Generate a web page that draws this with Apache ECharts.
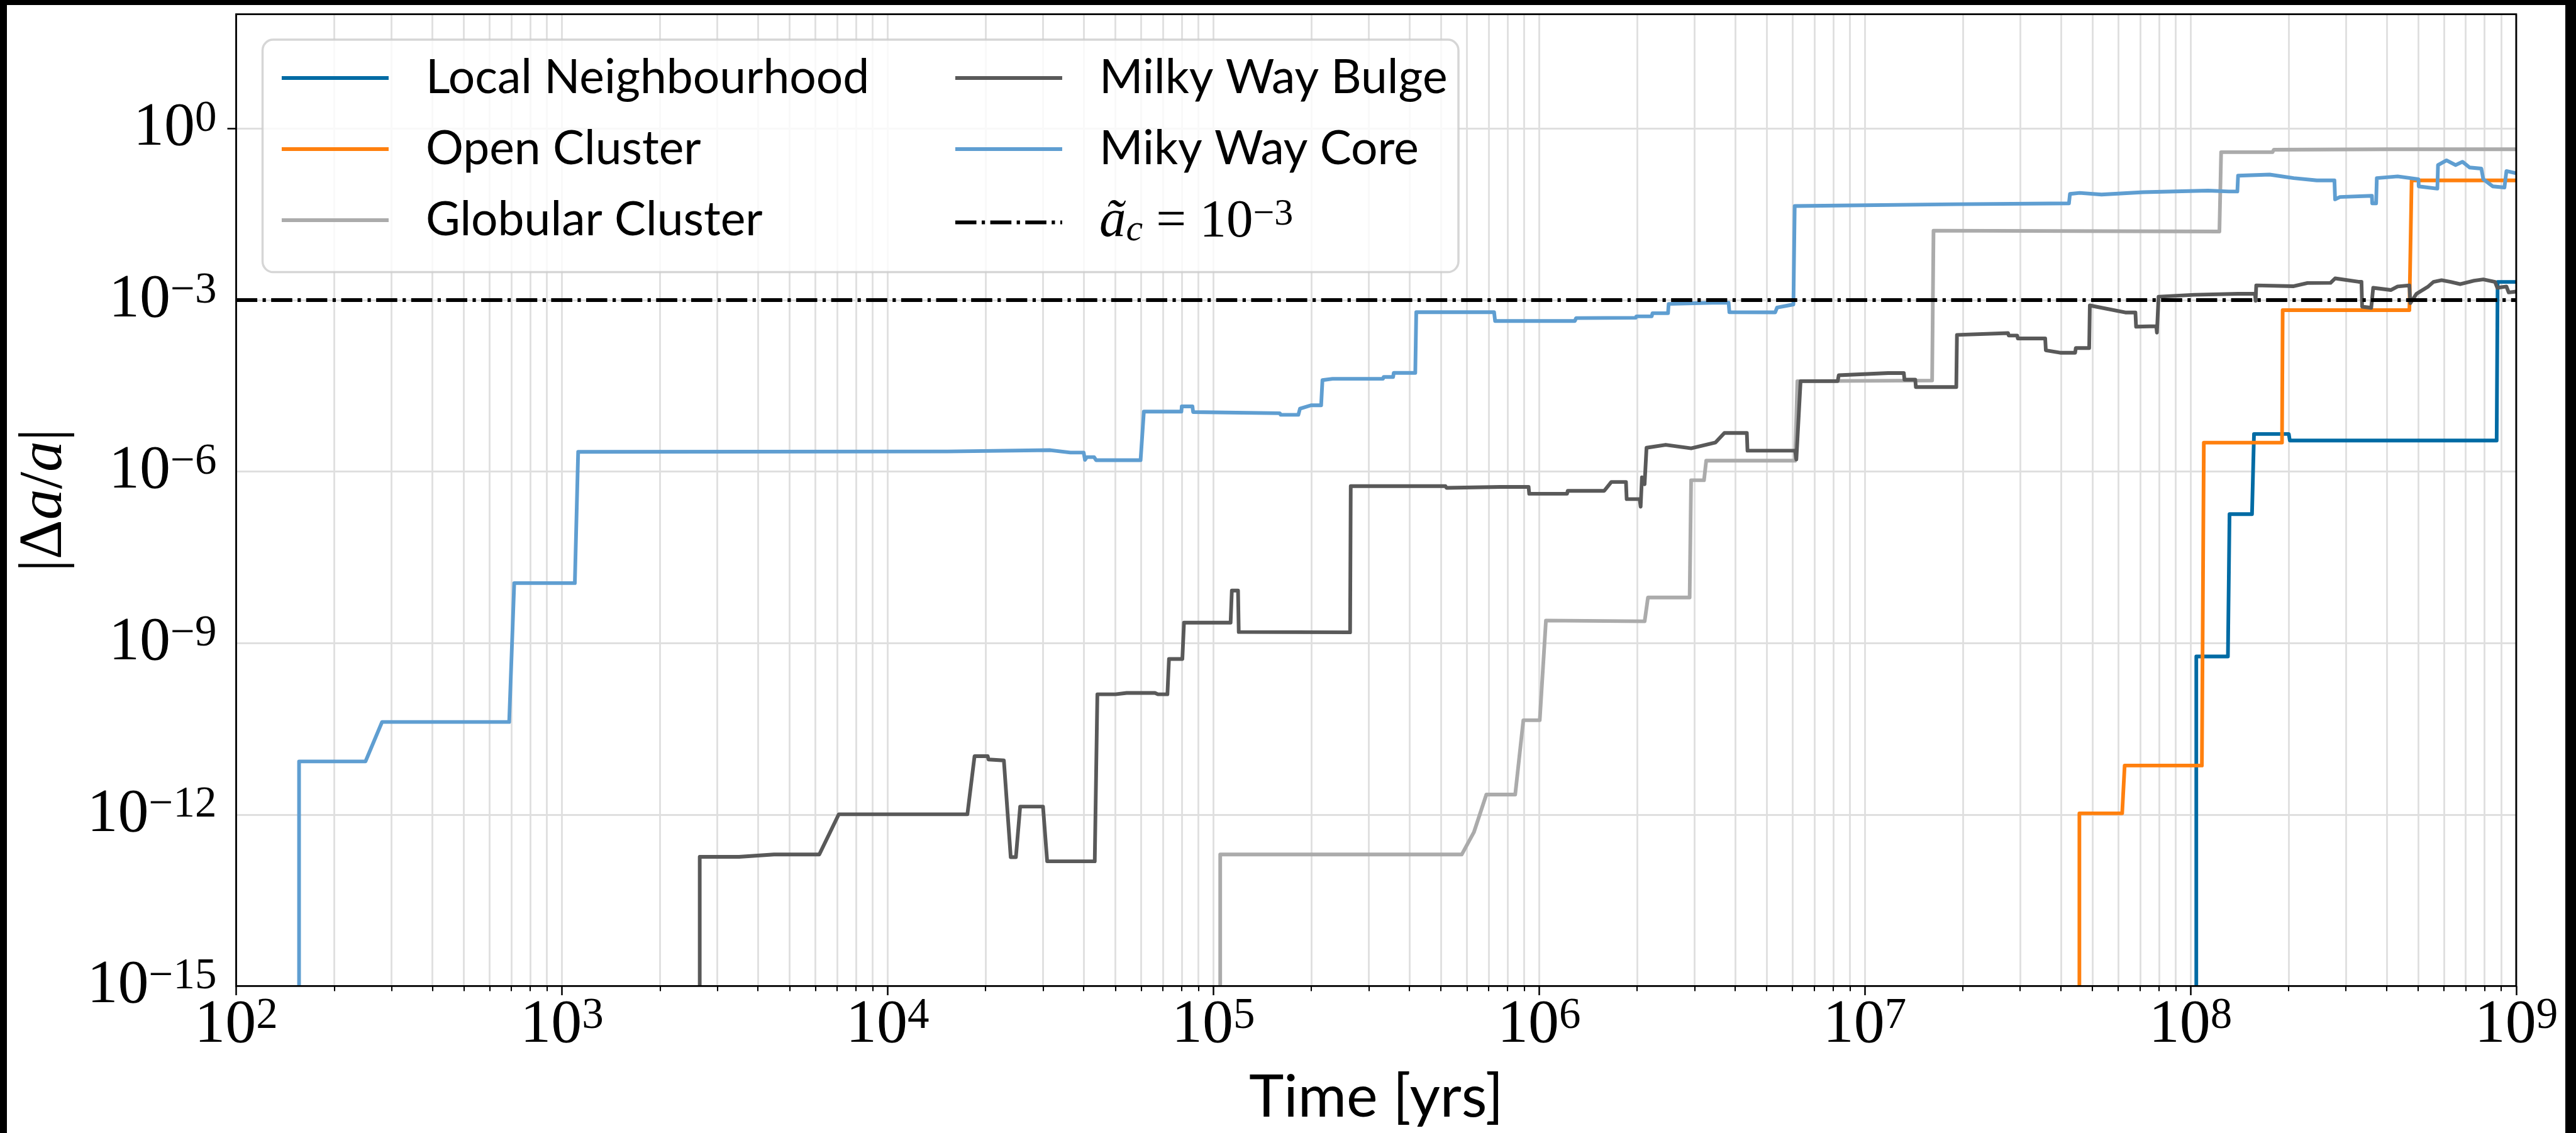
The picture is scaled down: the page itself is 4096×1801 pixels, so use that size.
<!DOCTYPE html>
<html>
<head>
<meta charset="utf-8">
<title>Fractional semi-major axis change by environment</title>
<script src="https://cdn.jsdelivr.net/npm/echarts@6.0.0/dist/echarts.min.js"></script>
<style>
  html, body { margin: 0; padding: 0; width: 4096px; height: 1801px; background: #000; overflow: hidden; }
  #paper { position: absolute; left: 11px; top: 8px; width: 4068px; height: 1793px; background: #fff; }
  #chart { position: absolute; left: 0; top: 0; width: 4096px; height: 1801px; }
</style>
</head>
<body>
<div id="paper"></div>
<div id="chart"></div>
<script>
// ---------------------------------------------------------------------------
// Data: time [yr] and |Δa/a| for each stellar environment
// ---------------------------------------------------------------------------
const localTime  = [1.042e8, 1.042e8, 1.303e8, 1.318e8, 1.545e8, 1.567e8, 2.004e8, 2.018e8, 8.71e8, 8.77e8, 1e9];
const localValue = [1e-15, 5.83e-10, 5.83e-10, 1.80e-7, 1.80e-7, 4.55e-6, 4.55e-6, 3.5e-6, 3.5e-6, 2.08e-3, 2.08e-3];

const openTime  = [4.56e7, 4.56e7, 6.17e7, 6.28e7, 1.084e8, 1.099e8, 1.91e8, 1.919e8, 4.70e8, 4.775e8, 1e9];
const openValue = [1e-15, 1.05e-12, 1.05e-12, 7.2e-12, 7.2e-12, 3.21e-6, 3.21e-6, 6.67e-4, 6.67e-4, 0.124, 0.124];

const globularTime  = [1.05e5, 1.05e5, 5.79e5, 6.31e5, 6.89e5, 8.45e5, 8.95e5, 1.005e6, 1.05e6, 2.11e6, 2.16e6,
                       2.90e6, 2.93e6, 3.21e6, 3.26e6, 6.11e6, 6.21e6, 1.61e7, 1.626e7, 1.227e8, 1.242e8,
                       1.786e8, 1.803e8, 3.99e8, 1e9];
const globularValue = [1e-15, 2.0e-13, 2.0e-13, 4.9e-13, 2.24e-12, 2.24e-12, 4.47e-11, 4.47e-11, 2.48e-9, 2.40e-9, 6.27e-9,
                       6.27e-9, 7.06e-7, 7.06e-7, 1.55e-6, 1.55e-6, 3.82e-5, 3.92e-5, 1.64e-2, 1.585e-2, 0.387,
                       0.387, 0.427, 0.436, 0.436];

const bulgeTime = [2.65e3, 2.65e3, 3.5e3, 4.48e3, 6.17e3, 7.08e3, 1.758e4, 1.849e4, 2.03e4, 2.04e4,
                   2.275e4, 2.388e4, 2.477e4, 2.553e4, 3.0e4, 3.09e4, 4.325e4, 4.406e4, 5.01e4, 5.42e4,
                   6.62e4, 6.76e4, 7.23e4, 7.31e4, 8.035e4, 8.128e4, 1.13e5, 1.14e5, 1.191e5, 1.197e5,
                   2.63e5, 2.642e5, 5.16e5, 5.2e5, 7.6e5, 9.29e5, 9.33e5, 1.219e6, 1.225e6, 1.585e6,
                   1.667e6, 1.849e6, 1.858e6, 2.037e6, 2.051e6, 2.07e6, 2.109e6, 2.138e6, 2.449e6, 2.931e6,
                   3.483e6, 3.707e6, 4.345e6, 4.365e6, 6.109e6, 6.166e6, 6.353e6, 8.26e6, 8.32e6, 1.18e7,
                   1.318e7, 1.324e7, 1.429e7, 1.435e7, 1.91e7, 1.919e7, 2.754e7, 2.767e7, 2.938e7, 2.951e7,
                   3.581e7, 3.597e7, 3.98e7, 4.426e7, 4.446e7, 4.887e7, 4.909e7, 6.31e7, 6.776e7, 6.808e7,
                   7.852e7, 7.889e7, 7.98e7, 1.026e8, 1.40e8, 1.578e8, 1.585e8, 1.592e8, 2.075e8, 2.286e8,
                   2.692e8, 2.78e8, 3.281e8, 3.35e8, 3.365e8, 3.589e8, 3.639e8, 4.121e8, 4.325e8, 4.699e8,
                   4.732e8, 4.943e8, 5.37e8, 5.572e8, 5.902e8, 6.295e8, 6.73e8, 7.43e8, 7.925e8, 8.61e8,
                   8.75e8, 9.333e8, 9.484e8, 1e9];
const bulgeValue = [1e-15, 1.82e-13, 1.82e-13, 2.0e-13, 2.0e-13, 1.01e-12, 1.01e-12, 1.05e-11, 1.05e-11, 9.2e-12,
                    8.85e-12, 1.8e-13, 1.8e-13, 1.38e-12, 1.38e-12, 1.52e-13, 1.52e-13, 1.27e-10, 1.27e-10, 1.34e-10,
                    1.34e-10, 1.27e-10, 1.27e-10, 5.27e-10, 5.27e-10, 2.28e-9, 2.28e-9, 8.28e-9, 8.28e-9, 1.56e-9,
                    1.54e-9, 5.57e-7, 5.57e-7, 5.19e-7, 5.4e-7, 5.4e-7, 4.09e-7, 4.09e-7, 4.6e-7, 4.6e-7,
                    6.58e-7, 6.58e-7, 3.3e-7, 3.3e-7, 2.43e-7, 7.96e-7, 6.0e-7, 2.61e-6, 2.94e-6, 2.55e-6,
                    3.23e-6, 4.73e-6, 4.73e-6, 2.32e-6, 2.32e-6, 1.63e-6, 3.82e-5, 3.82e-5, 4.84e-5, 5.3e-5,
                    5.3e-5, 4.06e-5, 4.06e-5, 3.01e-5, 3.01e-5, 2.46e-4, 2.65e-4, 2.4e-4, 2.4e-4, 2.13e-4,
                    2.13e-4, 1.32e-4, 1.2e-4, 1.2e-4, 1.45e-4, 1.45e-4, 8.07e-4, 6.07e-4, 6.07e-4, 3.43e-4,
                    3.5e-4, 2.7e-4, 1.146e-3, 1.236e-3, 1.29e-3, 1.29e-3, 9.75e-4, 1.81e-3, 1.75e-3, 1.99e-3,
                    2.0e-3, 2.4e-3, 2.09e-3, 2.09e-3, 7.67e-4, 7.33e-4, 1.64e-3, 1.5e-3, 1.73e-3, 1.81e-3,
                    8.85e-4, 1.29e-3, 1.73e-3, 2.08e-3, 2.23e-3, 2.08e-3, 1.9e-3, 2.19e-3, 2.3e-3, 2.08e-3,
                    1.64e-3, 1.73e-3, 1.36e-3, 1.41e-3];

const coreTime = [156, 156, 249.5, 280.5, 689, 714, 1096, 1122, 1.53e4, 3.16e4,
                  3.64e4, 4.0e4, 4.036e4, 4.093e4, 4.305e4, 4.365e4, 5.98e4, 6.12e4, 7.98e4, 8.0e4,
                  8.63e4, 8.67e4, 1.6e5, 1.61e5, 1.824e5, 1.845e5, 1.995e5, 2.143e5, 2.163e5, 2.323e5,
                  3.319e5, 3.334e5, 3.565e5, 3.58e5, 4.169e5, 4.198e5, 7.278e5, 7.33e5, 1.288e6, 1.30e6,
                  1.98e6, 1.99e6, 2.218e6, 2.23e6, 2.489e6, 2.50e6, 3.404e6, 3.82e6, 3.84e6, 5.31e6,
                  5.38e6, 6.039e6, 6.095e6, 1.901e7, 4.236e7, 4.266e7, 4.57e7, 5.33e7, 7.16e7, 1.132e8,
                  1.312e8, 1.393e8, 1.40e8, 1.75e8, 2.075e8, 2.443e8, 2.767e8, 2.78e8, 2.877e8, 3.606e8,
                  3.614e8, 3.715e8, 3.733e8, 4.325e8, 5.012e8, 5.02e8, 5.728e8, 5.754e8, 6.11e8, 6.516e8,
                  6.84e8, 7.194e8, 7.816e8, 7.925e8, 8.47e8, 9.204e8, 9.333e8, 1e9];
const coreValue = [1e-15, 8.5e-12, 8.5e-12, 4.17e-11, 4.17e-11, 1.12e-8, 1.12e-8, 2.21e-6, 2.25e-6, 2.37e-6,
                   2.15e-6, 2.15e-6, 1.6e-6, 1.79e-6, 1.79e-6, 1.585e-6, 1.585e-6, 1.12e-5, 1.12e-5, 1.38e-5,
                   1.38e-5, 1.10e-5, 1.05e-5, 9.84e-6, 9.84e-6, 1.26e-5, 1.445e-5, 1.445e-5, 3.98e-5, 4.2e-5,
                   4.2e-5, 4.51e-5, 4.51e-5, 5.32e-5, 5.32e-5, 6.15e-4, 6.15e-4, 4.31e-4, 4.31e-4, 4.85e-4,
                   4.9e-4, 5.2e-4, 5.2e-4, 5.9e-4, 5.9e-4, 8.57e-4, 9.0e-4, 9.0e-4, 6.15e-4, 6.1e-4,
                   7.41e-4, 8.38e-4, 4.42e-2, 4.75e-2, 4.93e-2, 7.21e-2, 7.5e-2, 7.01e-2, 7.71e-2, 8.24e-2,
                   7.94e-2, 7.94e-2, 0.15, 0.157, 0.136, 0.124, 0.124, 5.79e-2, 6.37e-2, 6.67e-2,
                   4.93e-2, 4.93e-2, 0.136, 0.146, 0.13, 9.77e-2, 8.91e-2, 0.23, 0.278, 0.23,
                   0.263, 0.209, 0.2, 0.13, 9.77e-2, 9.33e-2, 0.181, 0.166];

// critical change threshold ã_c = 10^-3
const thresholdTime  = [1e2, 1e9];
const thresholdValue = [1e-3, 1e-3];

const seriesNames  = ['Local Neighbourhood', 'Open Cluster', 'Globular Cluster', 'Milky Way Bulge', 'Miky Way Core'];
const seriesColors = ['#006BA4', '#FF800E', '#ABABAB', '#595959', '#5F9ED1'];
const thresholdName = 'a_c threshold';

// axis ranges and tick exponents
const timeRange  = [1e2, 1e9];
const ratioRange = [1e-15, 1e2];
const yTickExponents = [-15, -12, -9, -6, -3, 0];
const minorMultipliers = [2, 3, 4, 5, 6, 7, 8, 9];

// ---------------------------------------------------------------------------
// Layout and styling
// ---------------------------------------------------------------------------
const SERIF = '"Liberation Serif", "DejaVu Serif", serif';
const SANS  = 'Lato, "Open Sans", sans-serif';
const GL = 375.5, GT = 22.7, GR = 4000.9, GB = 1567.4;
const GW = GR - GL, GH = GB - GT;
const LINE_W = 5.9, AXIS_W = 2.8, GRID_W = 2.8, GRID_COLOR = '#dfdfdf';
const MAJOR_TICK = 14.5, MINOR_TICK = 8.1, Y_TICK = 14;

const xMinorValues = [];
for (let e = Math.log10(timeRange[0]); e < Math.log10(timeRange[1]); e++) {
  minorMultipliers.forEach(m => xMinorValues.push(m * Math.pow(10, e)));
}

function pairs(t, v) { return t.map((x, i) => [x, v[i]]); }

function powerLabel(value) {
  const e = Math.round(Math.log10(value));
  const exp = e < 0 ? '\u2212' + (-e) : String(e);
  return '{b|10}{s|' + exp + '}';
}
const tickRich = {
  b: { fontFamily: SERIF, fontSize: 98, lineHeight: 98, color: '#000' },
  s: { fontFamily: SERIF, fontSize: 69, lineHeight: 49, verticalAlign: 'top', color: '#000' }
};

const legendRich = {
  a: { fontFamily: SERIF, fontStyle: 'italic', fontSize: 85, lineHeight: 85, color: '#000' },
  c: { fontFamily: SERIF, fontStyle: 'italic', fontSize: 60, lineHeight: 50, verticalAlign: 'bottom', color: '#000' },
  e: { fontFamily: SERIF, fontSize: 85, lineHeight: 85, color: '#000' },
  s: { fontFamily: SERIF, fontSize: 60, lineHeight: 47, verticalAlign: 'top', color: '#000' }
};
function legendText(name) {
  if (name === thresholdName) return '{a|\u00e3}{c|c}{e| = 10}{s|\u22123}';
  return name;
}

function envSeries(idx, t, v) {
  return {
    type: 'line', name: seriesNames[idx], xAxisIndex: 0, yAxisIndex: 0,
    data: pairs(t, v), symbol: 'none', showSymbol: false, clip: true, silent: true, z: 3,
    lineStyle: { color: seriesColors[idx], width: LINE_W, cap: 'butt', join: 'round' },
    itemStyle: { color: seriesColors[idx] },
    emphasis: { disabled: true }
  };
}

function tickLines(xIdx, yIdx, items, color, width, z) {
  return {
    type: 'line', xAxisIndex: xIdx, yAxisIndex: yIdx, data: [], silent: true, z: z,
    markLine: {
      silent: true, z: z, symbol: ['none', 'none'], animation: false,
      label: { show: false }, emphasis: { disabled: true },
      lineStyle: { color: color, width: width, type: 'solid', opacity: 1 },
      data: items
    }
  };
}

const legendBase = {
  orient: 'vertical', top: 85, padding: 0, itemGap: 35,
  itemWidth: 170, itemHeight: 78, selectedMode: false, z: 30,
  itemStyle: { opacity: 0, borderWidth: 0 },
  lineStyle: { width: LINE_W },
  textStyle: { fontFamily: SANS, fontSize: 75, lineHeight: 78, color: '#000', padding: [0, 0, 0, 54], rich: legendRich },
  formatter: legendText
};

const option = {
  backgroundColor: 'transparent',
  animation: false,
  grid: [
    { left: GL, top: GT, width: GW, height: GH, show: false },
    { left: GL, top: GB, width: GW, height: MINOR_TICK, show: false },
    { left: GL - Y_TICK, top: GT, width: Y_TICK, height: GH, show: false }
  ],
  xAxis: [
    {
      gridIndex: 0, type: 'log', logBase: 10, min: timeRange[0], max: timeRange[1], interval: 1,
      name: 'Time [yrs]', nameLocation: 'middle', nameGap: 130,
      nameTextStyle: { fontFamily: SANS, fontSize: 94, lineHeight: 94, color: '#000' },
      axisLine: { show: false },
      axisTick: { show: true, inside: false, length: MAJOR_TICK, lineStyle: { color: '#000', width: 2.5 } },
      axisLabel: { margin: 14, formatter: powerLabel, rich: tickRich, color: '#000' },
      splitLine: { show: true, lineStyle: { color: GRID_COLOR, width: GRID_W } },
      minorTick: { show: false }, minorSplitLine: { show: false }
    },
    { gridIndex: 1, type: 'log', logBase: 10, min: timeRange[0], max: timeRange[1], show: false },
    { gridIndex: 2, type: 'value', min: 0, max: 1, show: false }
  ],
  yAxis: [
    {
      gridIndex: 0, type: 'log', logBase: 10, min: ratioRange[0], max: ratioRange[1], interval: 3,
      name: '{r||\u0394}{i|a}{r|/}{i|a}{r||}', nameLocation: 'middle', nameGap: 255,
      nameTextStyle: {
        fontFamily: SERIF, fontSize: 98, lineHeight: 98, color: '#000',
        rich: {
          r: { fontFamily: SERIF, fontSize: 98, lineHeight: 98, color: '#000' },
          i: { fontFamily: SERIF, fontStyle: 'italic', fontSize: 98, lineHeight: 98, color: '#000' }
        }
      },
      axisLine: { show: false },
      axisTick: { show: false },
      axisLabel: { margin: 31, formatter: powerLabel, rich: tickRich, color: '#000', showMaxLabel: false },
      splitLine: { show: true, lineStyle: { color: GRID_COLOR, width: GRID_W } },
      minorTick: { show: false }, minorSplitLine: { show: false }
    },
    { gridIndex: 1, type: 'value', min: 0, max: 1, show: false },
    { gridIndex: 2, type: 'log', logBase: 10, min: ratioRange[0], max: ratioRange[1], show: false }
  ],
  legend: [
    Object.assign({}, legendBase, { left: 445, data: seriesNames.slice(0, 3) }),
    Object.assign({}, legendBase, { left: 1516, data: [seriesNames[3], seriesNames[4], thresholdName] })
  ],
  graphic: [
    { type: 'rect', z: 10, silent: true, shape: { x: GL, y: GT, width: GW, height: GH },
      style: { fill: 'none', stroke: '#000', lineWidth: AXIS_W } },
    { type: 'rect', z: 20, silent: true, shape: { x: 417.5, y: 63, width: 1901.5, height: 369.6, r: 17 },
      style: { fill: 'rgba(255,255,255,0.8)', stroke: 'rgba(204,204,204,0.8)', lineWidth: 3.5 } }
  ],
  series: [
    // minor vertical grid lines inside the plot
    tickLines(0, 0, xMinorValues.map(v => ({ xAxis: v })), GRID_COLOR, GRID_W, 1),
    // minor x ticks below the plot
    tickLines(1, 1, xMinorValues.map(v => ({ xAxis: v })), '#000', 2.1, 3),
    // major y ticks left of the plot
    tickLines(2, 2, yTickExponents.map(e => ({ yAxis: Math.pow(10, e) })), '#000', 2.5, 3),
    envSeries(0, localTime, localValue),
    envSeries(1, openTime, openValue),
    envSeries(2, globularTime, globularValue),
    envSeries(3, bulgeTime, bulgeValue),
    envSeries(4, coreTime, coreValue),
    {
      type: 'line', name: thresholdName, xAxisIndex: 0, yAxisIndex: 0,
      data: pairs(thresholdTime, thresholdValue), symbol: 'none', showSymbol: false, silent: true, z: 4,
      lineStyle: { color: '#000', width: LINE_W, type: [33.6, 8.4, 5.25, 8.4], cap: 'butt' },
      itemStyle: { color: '#000' },
      emphasis: { disabled: true }
    }
  ]
};

const chart = echarts.init(document.getElementById('chart'), null, { renderer: 'canvas', width: 4096, height: 1801 });
chart.setOption(option);
</script>
</body>
</html>
